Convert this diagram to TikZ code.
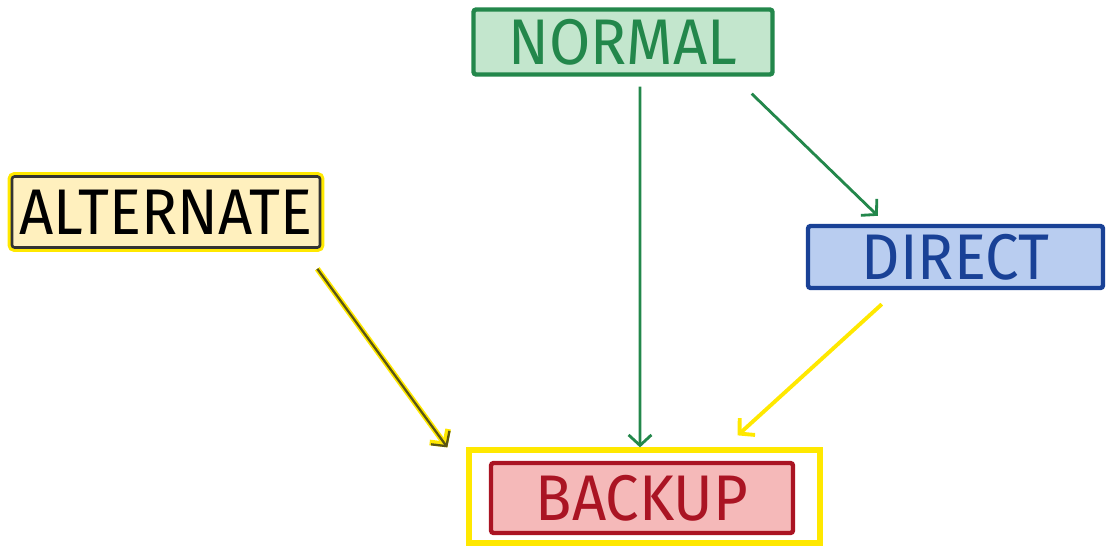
\documentclass[tikz,border=0pt]{standalone}
\usepackage{fontspec}
\setmainfont{Fira Sans}
\usepackage{graphicx}
\usetikzlibrary{arrows.meta}
\definecolor{mygreen}{RGB}{35,135,75}
\definecolor{mygreenfill}{RGB}{195,230,205}
\definecolor{myblue}{RGB}{25,65,150}
\definecolor{mybluefill}{RGB}{185,205,240}
\definecolor{myred}{RGB}{170,20,35}
\definecolor{myredfill}{RGB}{245,185,185}
\definecolor{myyellow}{RGB}{255,232,0}
\definecolor{myyellowfill}{RGB}{255,240,190}
\definecolor{myolive}{RGB}{90,85,20}
\newcommand{\hand}[1]{\scalebox{1}[1.08]{#1}}
\tikzset{box/.style={draw, line width=2.5pt, rounded corners=1.5pt, inner sep=0pt, font=\fontsize{34}{36}\selectfont}}
\tikzset{N/.style={box, draw=mygreen, fill=mygreenfill, text=mygreen, minimum width=5.98cm, minimum height=1.3cm}}
\tikzset{A/.style={box, draw=black!80, line width=1.5pt, preaction={draw=myyellow, line width=5pt}, fill=myyellowfill, text=black, minimum width=6.16cm, minimum height=1.42cm}}
\tikzset{D/.style={box, draw=myblue, fill=mybluefill, text=myblue, minimum width=5.9cm, minimum height=1.24cm}}
\tikzset{B/.style={box, draw=myred, fill=myredfill, text=myred, minimum width=6.04cm, minimum height=1.4cm}}
\tikzset{arr/.style={line width=1.6pt, -{Straight Barb[length=6pt, width=13pt]}}}
\begin{document}
\begin{tikzpicture}
\path [use as bounding box] (0,0) rectangle (22.2,-10.94);
\node [draw=myyellow, line width=3pt, minimum width=7.02cm, minimum height=1.86cm] (frame) at (12.89,-9.93) {};
\node [B] (backup) at (12.84,-9.96) {\hand{BACKUP}};
\node [N] (normal) at (12.46,-0.84) {\hand{NORMAL}};
\node [A] (alternate) at (3.32,-4.24) {\hand{ALTERNATE}};
\node [D] (direct) at (19.11,-5.14) {\hand{DIRECT}};
\draw [arr, mygreen] ([xshift=0.34cm, yshift=-0.2cm]normal.south) -- ([xshift=-0.09cm]frame.north);
\draw [arr, mygreen] ([xshift=-0.46cm, yshift=-0.34cm]normal.south east) -- ([xshift=1.44cm, yshift=0.16cm]direct.north west);
\draw [arr, myolive, line width=1.3pt, preaction={draw=myyellow, line width=3.2pt}] ([xshift=-0.08cm, yshift=-0.4cm]alternate.south east) -- ([xshift=-0.38cm]frame.north west);
\draw [arr, myyellow, line width=2.2pt] ([xshift=1.52cm, yshift=-0.28cm]direct.south west) -- ([xshift=-1.7cm, yshift=0.24cm]frame.north east);
\end{tikzpicture}
\end{document}
